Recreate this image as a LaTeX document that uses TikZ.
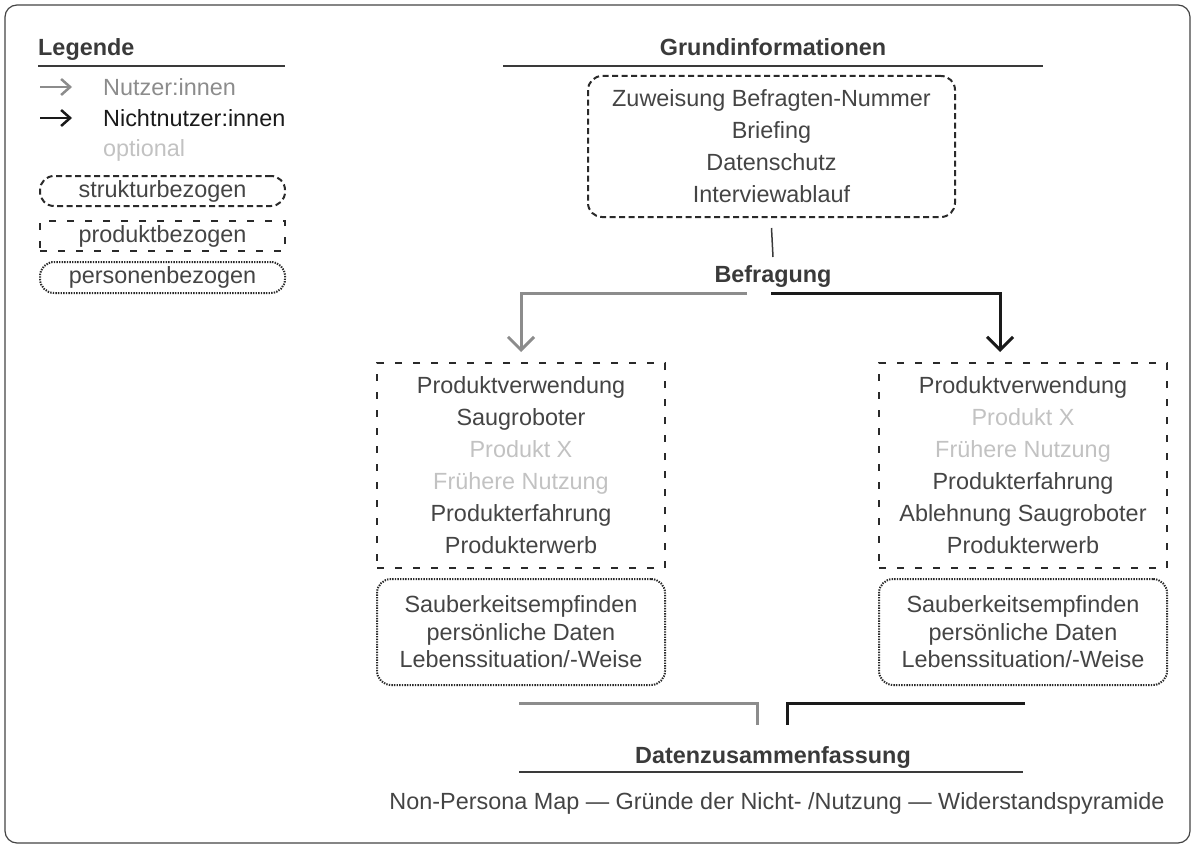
\documentclass[tikz,border=0pt]{standalone}
\usepackage{fontspec}
\setmainfont{Liberation Sans}
\usetikzlibrary{arrows.meta, positioning}

\definecolor{txt}{HTML}{444444}
\definecolor{dunkel}{HTML}{3A3A3A}
\definecolor{grau}{HTML}{8C8C8C}
\definecolor{schwarz}{HTML}{1A1A1A}
\definecolor{hell}{HTML}{C2C2C2}
\definecolor{rand}{HTML}{2A2A2A}

\begin{document}
\begin{tikzpicture}[x=1pt, y=-1pt,
    every node/.style={font=\fontsize{23.4}{32}\selectfont, text=txt, align=center, inner sep=0pt},
    titel/.style={font=\fontsize{23.4}{32}\selectfont\bfseries, text=dunkel},
    klein/.style={font=\fontsize{23.4}{27.5}\selectfont},
    struk/.style={draw=rand, line width=2pt, dash pattern=on 6pt off 3.5pt, rounded corners=14pt},
    prod/.style={draw=rand, line width=2pt, dash pattern=on 7pt off 11pt},
    pers/.style={draw=rand, line width=2pt, dash pattern=on 1.4pt off 1.2pt, rounded corners=14pt},
    nutz/.style={draw=grau, line width=3pt},
    nichtnutz/.style={draw=schwarz, line width=3pt},
    strich/.style={draw=dunkel, line width=2.5pt},
    spitze/.style={-{Straight Barb[length=13pt,width=26pt]}},
    minispitze/.style={-{Straight Barb[length=9pt,width=16pt]}}]

    \useasboundingbox (0,0) rectangle (1196,848);
    \draw[draw=txt, line width=1.2pt, rounded corners=12pt] (5,5) rectangle (1190,843);

    % Legende
    \node[titel, anchor=west] (leg) at (38,50) {Legende};
    \draw[strich] (38,66) -- (285,66);
    \node[anchor=west, text=grau] (nutzlab) at (103,87) {Nutzer:innen};
    \node[anchor=west, text=schwarz] (nichtlab) at (103,118) {Nichtnutzer:innen};
    \node[anchor=west, text=hell] (optlab) at (103,150) {optional};
    \draw[nutz, line width=2.5pt, minispitze] ([xshift=-63pt]nutzlab.west) -- ++(32,0);
    \draw[nichtnutz, line width=2.5pt, minispitze] ([xshift=-63pt]nichtlab.west) -- ++(32,0);
    \node[struk, minimum width=245pt, minimum height=30pt] (lstruk) at (162.5,191) {strukturbezogen};
    \node[prod, minimum width=245pt, minimum height=30pt] (lprod) at (162.5,236) {produktbezogen};
    \node[pers, minimum width=245pt, minimum height=31pt] (lpers) at (162.5,277.5) {personenbezogen};

    % Grundinformationen
    \node[titel] (grtitel) at (773,47) {Grundinformationen};
    \draw[strich] (503,66) -- (1043,66);
    \node[struk, minimum width=367pt, minimum height=141pt] (grund) at (771.5,146.5)
        {Zuweisung Befragten-Nummer\\Briefing\\Datenschutz\\Interviewablauf};
    \node[titel] (befr) at (773,276) {Befragung};
    \draw[draw=dunkel, line width=1.5pt] ([yshift=-10pt]grund.south) -- (773,257);

    % Nutzer:innen / Nichtnutzer:innen
    \node[prod, minimum width=288pt, minimum height=205pt] (prodL) at (521,465.5)
        {Produktverwendung\\Saugroboter\\\textcolor{hell}{Produkt X}\\\textcolor{hell}{Frühere Nutzung}\\Produkterfahrung\\Produkterwerb};
    \node[prod, minimum width=288pt, minimum height=205pt, right=212pt of prodL] (prodR)
        {Produktverwendung\\\textcolor{hell}{Produkt X}\\\textcolor{hell}{Frühere Nutzung}\\Produkterfahrung\\Ablehnung Saugroboter\\Produkterwerb};
    \node[pers, klein, minimum width=288pt, minimum height=106pt, below=9pt of prodL] (persL)
        {Sauberkeitsempfinden\\persönliche Daten\\Lebenssituation/-Weise};
    \node[pers, klein, minimum width=288pt, minimum height=106pt, below=9pt of prodR] (persR)
        {Sauberkeitsempfinden\\persönliche Daten\\Lebenssituation/-Weise};

    \coordinate (gabelL) at (747,293);
    \coordinate (gabelR) at (771,293);
    \draw[nutz, spitze, shorten >=10pt] (gabelL) -| (prodL.north);
    \draw[nichtnutz, spitze, shorten >=10pt] (gabelR) -| ([xshift=-23pt]prodR.north);

    % Datenzusammenfassung
    \node[titel] (daten) at (773,757) {Datenzusammenfassung};
    \draw[strich] (519,772) -- (1023,772);
    \coordinate (zusL) at (757,725);
    \coordinate (zusR) at (787,725);
    \draw[nutz] ([xshift=-2pt, yshift=-17pt]persL.south) -| (zusL);
    \draw[nichtnutz] ([xshift=2pt, yshift=-17pt]persR.south) -| (zusR);
    \node (ergebnis) at (777,803) {Non-Persona Map — Gründe der Nicht- /Nutzung — Widerstandspyramide};
\end{tikzpicture}
\end{document}
